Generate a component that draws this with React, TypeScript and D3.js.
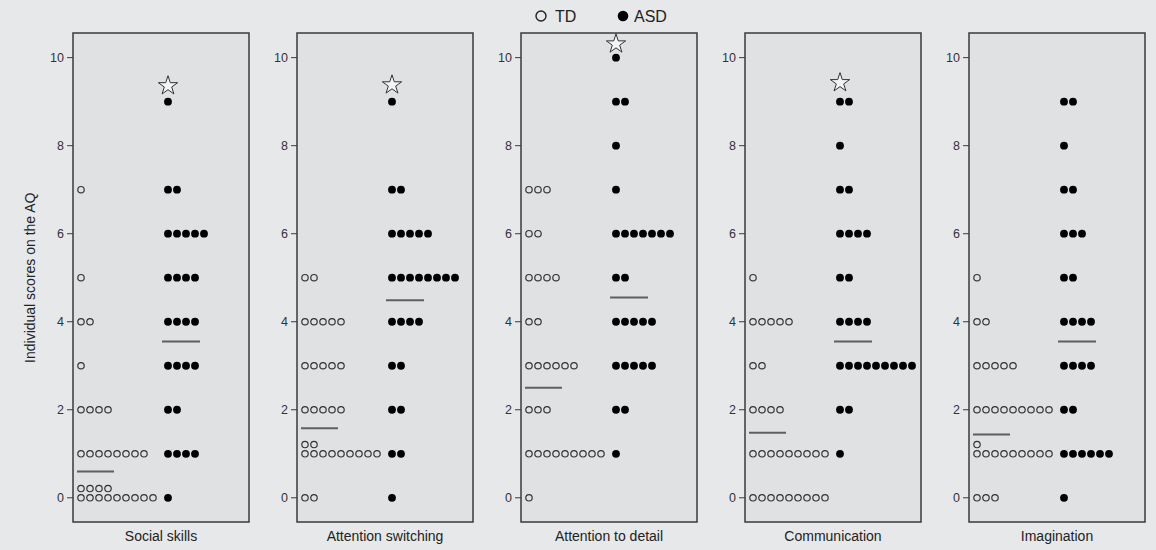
import React from 'react'
import * as d3 from 'd3'

// subscale names, one panel each
const subscales = ['Social skills', 'Attention switching', 'Attention to detail', 'Communication', 'Imagination']

// number of children at each score 0..10
const tdCounts = [
  [13, 8, 4, 1, 2, 1, 0, 1, 0, 0, 0],
  [2, 11, 5, 5, 5, 2, 0, 0, 0, 0, 0],
  [1, 9, 3, 6, 2, 4, 2, 3, 0, 0, 0],
  [9, 9, 4, 2, 5, 1, 0, 0, 0, 0, 0],
  [3, 10, 9, 5, 2, 1, 0, 0, 0, 0, 0],
]
const asdCounts = [
  [1, 4, 2, 4, 4, 4, 5, 2, 0, 1, 0],
  [1, 2, 2, 2, 4, 8, 5, 2, 0, 1, 0],
  [0, 1, 2, 5, 5, 2, 7, 1, 1, 2, 1],
  [0, 1, 2, 9, 4, 2, 4, 2, 1, 2, 0],
  [1, 6, 2, 4, 4, 2, 3, 2, 1, 2, 0],
]

// group average lines
const tdMeans = [0.6, 1.58, 2.5, 1.48, 1.44]
const asdMeans = [3.55, 4.49, 4.55, 3.55, 3.55]

// significance stars (null = none)
const starValues = [9.36, 9.38, 10.31, 9.43, null]

const yTicks = [0, 2, 4, 6, 8, 10]

const FONT = 'Liberation Sans, Arial, Helvetica, sans-serif'

const App = () => {
  const width = 1156
  const height = 550
  const top = 33
  const bottom = 522

  const x = d3.scaleBand().domain(subscales).range([73, 1145]).paddingInner(48 / 224).paddingOuter(0)
  const y = d3.scaleLinear().domain([-0.55, 10.56]).range([bottom, top])
  // column offset of dots inside a panel
  const col = d3.scaleLinear().domain([0, 1]).range([0, 9])
  const perRow = 9
  const rowShift = 0.21

  const star = d3.symbol().type(d3.symbolStar).size(115)()

  const dots = (counts, left, offset) => {
    const out = []
    counts.forEach((c, score) => {
      for (let i = 0; i < c; i++) {
        const row = Math.floor(i / perRow)
        out.push({ cx: left + offset + col(i % perRow), cy: y(score + row * rowShift), key: `${score}-${i}` })
      }
    })
    return out
  }

  return (
    <svg
      width={width}
      height={height}
      style={{ position: 'absolute', left: 0, top: 0, background: '#e7e8e9', fontFamily: FONT }}
    >
      <rect width={width} height={height} fill="#e7e8e9" />

      {/* legend */}
      <circle cx={541} cy={16} r={5} fill="none" stroke="#222" strokeWidth={1.4} />
      <text x={555} y={21.5} fontSize={16} fill="#222">TD</text>
      <circle cx={623} cy={16} r={5.3} fill="#000" />
      <text x={634} y={21.5} fontSize={16} fill="#222">ASD</text>

      <text
        transform={`translate(35,${y(5)}) rotate(-90)`}
        textAnchor="middle"
        fontSize={14}
        fill="#222"
      >
        Individual scores on the AQ
      </text>

      {subscales.map((name, p) => {
        const left = x(name)
        const w = x.bandwidth()
        return (
          <g key={name}>
            <rect x={left} y={top} width={w} height={bottom - top} fill="#e0e1e3" stroke="#3a3a3a" strokeWidth={1.5} />
            {yTicks.map((t) => (
              <g key={t}>
                <line x1={left - 6} x2={left} y1={y(t)} y2={y(t)} stroke="#3a3a3a" strokeWidth={1} />
                <text x={left - 9} y={y(t)} dy="0.35em" textAnchor="end" fontSize={12.5} fill="#333">
                  {t}
                </text>
              </g>
            ))}
            {dots(tdCounts[p], left, 8).map((d) => (
              <circle key={'t' + d.key} cx={d.cx} cy={d.cy} r={3.2} fill="none" stroke="#333" strokeWidth={1.2} />
            ))}
            {dots(asdCounts[p], left, 95).map((d) => (
              <circle key={'a' + d.key} cx={d.cx} cy={d.cy} r={3.9} fill="#000" />
            ))}
            <line x1={left + 4} x2={left + 41} y1={y(tdMeans[p])} y2={y(tdMeans[p])} stroke="#5f5f5f" strokeWidth={2} />
            <line x1={left + 89} x2={left + 127} y1={y(asdMeans[p])} y2={y(asdMeans[p])} stroke="#5f5f5f" strokeWidth={2} />
            {starValues[p] != null && (
              <path
                d={star}
                transform={`translate(${left + 95},${y(starValues[p])})`}
                fill="#f4f4f4"
                stroke="#333"
                strokeWidth={1}
              />
            )}
            <text x={left + w / 2} y={541} textAnchor="middle" fontSize={14} fill="#222">
              {name}
            </text>
          </g>
        )
      })}
    </svg>
  )
}

export default App
